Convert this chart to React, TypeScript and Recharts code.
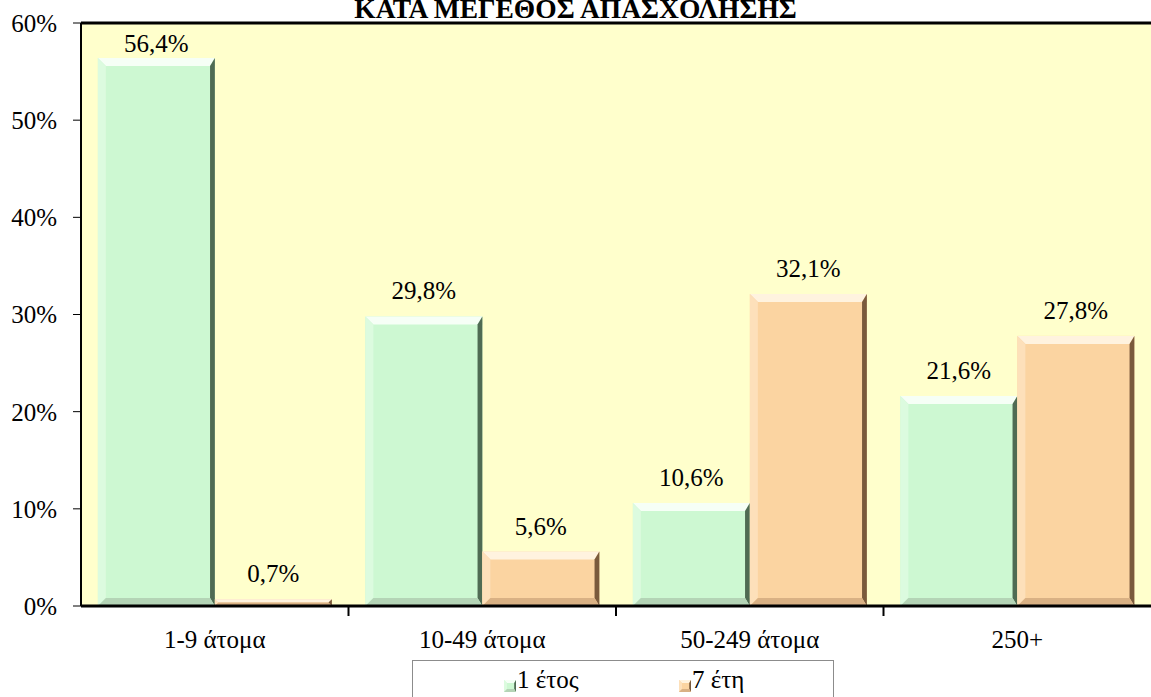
import React from 'react';
import {
  BarChart,
  Bar,
  XAxis,
  YAxis,
  CartesianGrid,
  LabelList,
  ReferenceLine,
} from 'recharts';

const title = 'ΚΑΤΑ ΜΕΓΕΘΟΣ ΑΠΑΣΧΟΛΗΣΗΣ';
const categories = ['1-9 άτομα', '10-49 άτομα', '50-249 άτομα', '250+'];
const oneYear = [56.4, 29.8, 10.6, 21.6];
const sevenYears = [0.7, 5.6, 32.1, 27.8];
const seriesNames = ['1 έτος', '7 έτη'];
const yTicks = [0, 10, 20, 30, 40, 50, 60];

const FONT = "'Liberation Serif', 'Times New Roman', serif";
const W = 1151;
const H = 697;
const PLOT_TOP = 23;
const FS = 25;

const palettes = {
  green: {
    face: '#cdf8d2',
    top: '#f6fff6',
    left: '#dcfbdf',
    right: '#4f6b53',
    bottom: '#b4d4b6',
  },
  orange: {
    face: '#fbd4a1',
    top: '#fff3df',
    left: '#fde0ba',
    right: '#7a5a3c',
    bottom: '#d9b184',
  },
};

type Pal = typeof palettes.green;

const data = categories.map((name, i) => ({
  name,
  a: oneYear[i],
  b: sevenYears[i],
}));

function bevel(x: number, y: number, w: number, h: number, p: Pal, size = 8) {
  const b = Math.max(0, Math.min(size, h / 2, w / 2));
  const r = Math.min(size * 0.6, b);
  return (
    <g>
      <rect x={x} y={y} width={w} height={h} fill={p.face} />
      <polygon
        points={`${x},${y} ${x + w},${y} ${x + w - r},${y + b} ${x + b},${y + b}`}
        fill={p.top}
      />
      <polygon
        points={`${x},${y} ${x + b},${y + b} ${x + b},${y + h - b} ${x},${y + h}`}
        fill={p.left}
      />
      <polygon
        points={`${x + w},${y} ${x + w},${y + h} ${x + w - r},${y + h - b} ${x + w - r},${y + b}`}
        fill={p.right}
      />
      <polygon
        points={`${x},${y + h} ${x + w},${y + h} ${x + w - r},${y + h - b} ${x + b},${y + h - b}`}
        fill={p.bottom}
      />
    </g>
  );
}

const makeShape = (p: Pal) => (props: any) => {
  const { x, y, width, height } = props;
  if (!height || height <= 0) return <g />;
  return bevel(x, y, width, height, p);
};

const fmt = (v: number) => `${v.toFixed(1).replace('.', ',')}%`;

const renderLabel = (props: any) => {
  const { x, y, width, value } = props;
  const ty = Math.max(Number(y) - 17, PLOT_TOP + 29);
  return (
    <text
      x={Number(x) + Number(width) / 2}
      y={ty}
      textAnchor="middle"
      style={{ fontFamily: FONT, fontSize: FS }}
      fill="#000"
    >
      {fmt(Number(value))}
    </text>
  );
};

const XTick = (props: any) => {
  const { x, y, payload, index } = props;
  const half = payload?.offset || 1070 / 8;
  return (
    <g>
      {index > 0 && (
        <line x1={x - half} x2={x - half} y1={y} y2={y + 10} stroke="#000" strokeWidth={2} />
      )}
      <text
        x={x}
        y={y + 42}
        textAnchor="middle"
        style={{ fontFamily: FONT, fontSize: FS }}
        fill="#000"
      >
        {payload.value}
      </text>
    </g>
  );
};

export default function App() {
  return (
    <div
      style={{
        position: 'absolute',
        left: 0,
        top: 0,
        width: W,
        height: H,
        overflow: 'hidden',
        background: '#fff',
        fontFamily: FONT,
      }}
    >
      <div
        style={{
          position: 'absolute',
          top: -4,
          left: 0,
          width: W,
          textAlign: 'center',
          fontSize: 27.5,
          lineHeight: '26px',
          fontWeight: 'bold',
          color: '#000',
        }}
      >
        {title}
      </div>
      <BarChart
        width={W}
        height={H}
        data={data}
        margin={{ top: PLOT_TOP, right: 0, left: 0, bottom: 51 }}
        barCategoryGap="6.3%"
        barGap={0}
        style={{ fontFamily: FONT }}
      >
        <CartesianGrid horizontal={false} vertical={false} fill="#ffffcc" fillOpacity={1} />
        <XAxis
          dataKey="name"
          height={40}
          tickLine={false}
          tickSize={0}
          tickMargin={0}
          axisLine={{ stroke: '#000', strokeWidth: 3 }}
          tick={<XTick />}
          interval={0}
        />
        <YAxis
          width={81}
          domain={[0, 60]}
          ticks={yTicks}
          tickFormatter={(v: number) => `${v}%`}
          tickSize={8}
          tickMargin={16}
          axisLine={{ stroke: '#000', strokeWidth: 2 }}
          tickLine={{ stroke: '#000', strokeWidth: 1 }}
          tick={{ fill: '#000', fontSize: FS, fontFamily: FONT }}
          interval={0}
        />
        <ReferenceLine y={60} stroke="#000" strokeWidth={3} ifOverflow="extendDomain" />
        <Bar dataKey="a" name={seriesNames[0]} shape={makeShape(palettes.green)} isAnimationActive={false}>
          <LabelList dataKey="a" content={renderLabel} />
        </Bar>
        <Bar dataKey="b" name={seriesNames[1]} shape={makeShape(palettes.orange)} isAnimationActive={false}>
          <LabelList dataKey="b" content={renderLabel} />
        </Bar>
      </BarChart>
      <div
        style={{
          position: 'absolute',
          left: 412,
          top: 660,
          width: 422,
          height: 60,
          border: '1px solid #8c8c8c',
          boxSizing: 'border-box',
          background: '#fff',
          fontSize: FS,
          color: '#000',
        }}
      >
        {seriesNames.map((n, i) => {
          const left = i === 0 ? 91 : 266;
          return (
            <React.Fragment key={n}>
              <svg
                width={12}
                height={12}
                viewBox="0 0 12 12"
                style={{ position: 'absolute', left, top: 19, display: 'block' }}
              >
                {bevel(0, 0, 12, 12, i === 0 ? palettes.green : palettes.orange, 3)}
              </svg>
              <span
                style={{
                  position: 'absolute',
                  left: left + 13,
                  top: 6,
                  lineHeight: '25px',
                  whiteSpace: 'nowrap',
                }}
              >
                {n}
              </span>
            </React.Fragment>
          );
        })}
      </div>
    </div>
  );
}
